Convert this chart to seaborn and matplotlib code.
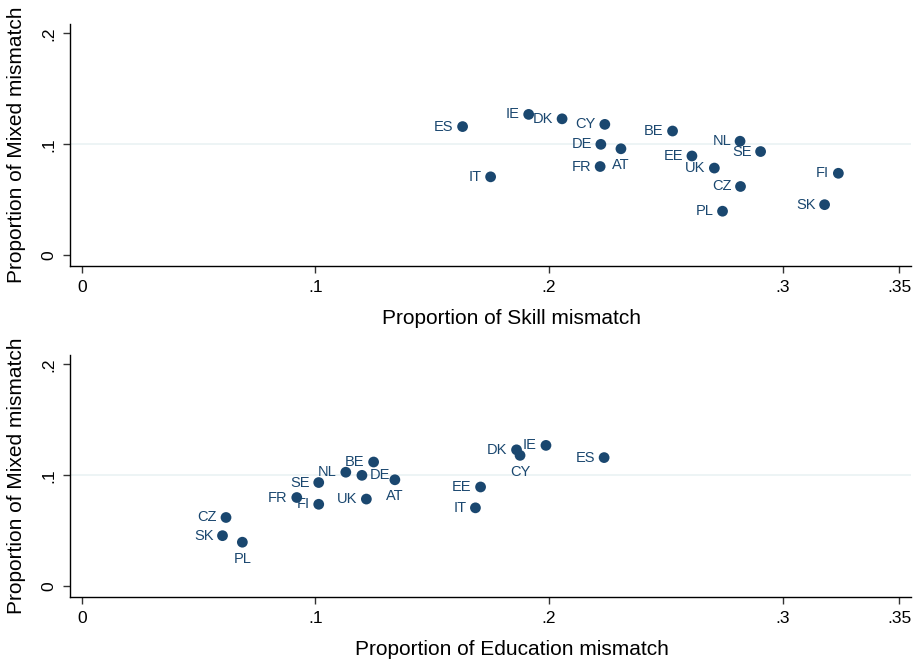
import matplotlib
matplotlib.use("Agg")
import matplotlib.pyplot as plt
import seaborn as sns
import pandas as pd

countries = ["ES", "IE", "DK", "CY", "DE", "AT", "FR", "IT", "BE", "EE",
             "UK", "NL", "SE", "CZ", "PL", "FI", "SK"]
mixed = [0.116, 0.127, 0.123, 0.118, 0.100, 0.096, 0.080, 0.0707, 0.112, 0.0895,
         0.0786, 0.1028, 0.0935, 0.062, 0.0397, 0.0739, 0.0456]
skill = [0.163, 0.1913, 0.2056, 0.2239, 0.2222, 0.2308, 0.2219, 0.1750, 0.2529, 0.2612,
         0.2708, 0.2818, 0.2906, 0.2820, 0.2743, 0.3239, 0.3180]
education = [0.2236, 0.1987, 0.1861, 0.1876, 0.1199, 0.1340, 0.0920, 0.1685, 0.1249, 0.1707,
             0.1218, 0.1130, 0.1014, 0.0617, 0.0687, 0.1014, 0.0602]
# label positions (clock): 9 = left, 6 = below, 3 = right
pos_skill = {"AT": 6}
pos_edu = {"AT": 6, "CY": 6, "PL": 6, "DE": 3}

x_ticks = [0, 0.1, 0.2, 0.3, 0.35]
x_ticklabels = ["0", ".1", ".2", ".3", ".35"]
y_ticks = [0, 0.1, 0.2]
y_ticklabels = ["0", ".1", ".2"]

df = pd.DataFrame({"country": countries, "mixed": mixed, "skill": skill,
                   "education": education})

sns.set_style("white")
plt.rcParams["font.family"] = ["Liberation Sans", "DejaVu Sans"]

navy = "#1a476f"
grid_c = "#eaf2f3"

fig = plt.figure(figsize=(9.18, 6.63), dpi=100)
ax1 = fig.add_axes([70 / 918, 1 - 266 / 663, 841 / 918, 242 / 663])
ax2 = fig.add_axes([70 / 918, 1 - 597 / 663, 841 / 918, 242 / 663])

for ax, xcol, xlabel, pos in [(ax1, "skill", "Proportion of Skill mismatch", pos_skill),
                              (ax2, "education", "Proportion of Education mismatch", pos_edu)]:
    ax.axhline(0.1, color=grid_c, lw=1.2, zorder=0)
    sns.scatterplot(data=df, x=xcol, y="mixed", ax=ax, color=navy, s=60,
                    edgecolor="none", linewidth=0, zorder=3)
    for c, xv, yv in zip(df["country"], df[xcol], df["mixed"]):
        p = pos.get(c, 9)
        if p == 6:
            ax.annotate(c, (xv, yv), xytext=(0, -7), textcoords="offset points",
                        ha="center", va="top", color=navy, fontsize=10.5)
        elif p == 3:
            ax.annotate(c, (xv, yv), xytext=(5.5, 0), textcoords="offset points",
                        ha="left", va="center", color=navy, fontsize=10.5)
        else:
            ax.annotate(c, (xv, yv), xytext=(-6.5, 0), textcoords="offset points",
                        ha="right", va="center", color=navy, fontsize=10.5)
    ax.set_xlim(-0.0051, 0.355)
    ax.set_ylim(-0.0097, 0.2085)
    ax.set_xticks(x_ticks)
    ax.set_xticklabels(x_ticklabels)
    ax.set_yticks(y_ticks)
    ax.set_yticklabels(y_ticklabels, rotation=90, va="center")
    ax.tick_params(axis="both", direction="out", length=5, width=1, color="#333333",
                   labelsize=12.5, pad=5, labelcolor="black")
    ax.tick_params(axis="both", which="both", bottom=True, left=True)
    for s in ["top", "right"]:
        ax.spines[s].set_visible(False)
    for s in ["left", "bottom"]:
        ax.spines[s].set_color("black")
        ax.spines[s].set_linewidth(1.0)
    ax.set_xlabel(xlabel, fontsize=15, color="black")
    ax.set_ylabel("Proportion of Mixed mismatch", fontsize=15, color="black")
    ax.xaxis.set_label_coords(0.525, -0.178)
    ax.yaxis.set_label_coords(-0.052, 0.5)
    ax.grid(False)

fig.savefig("out.png", dpi=100)
